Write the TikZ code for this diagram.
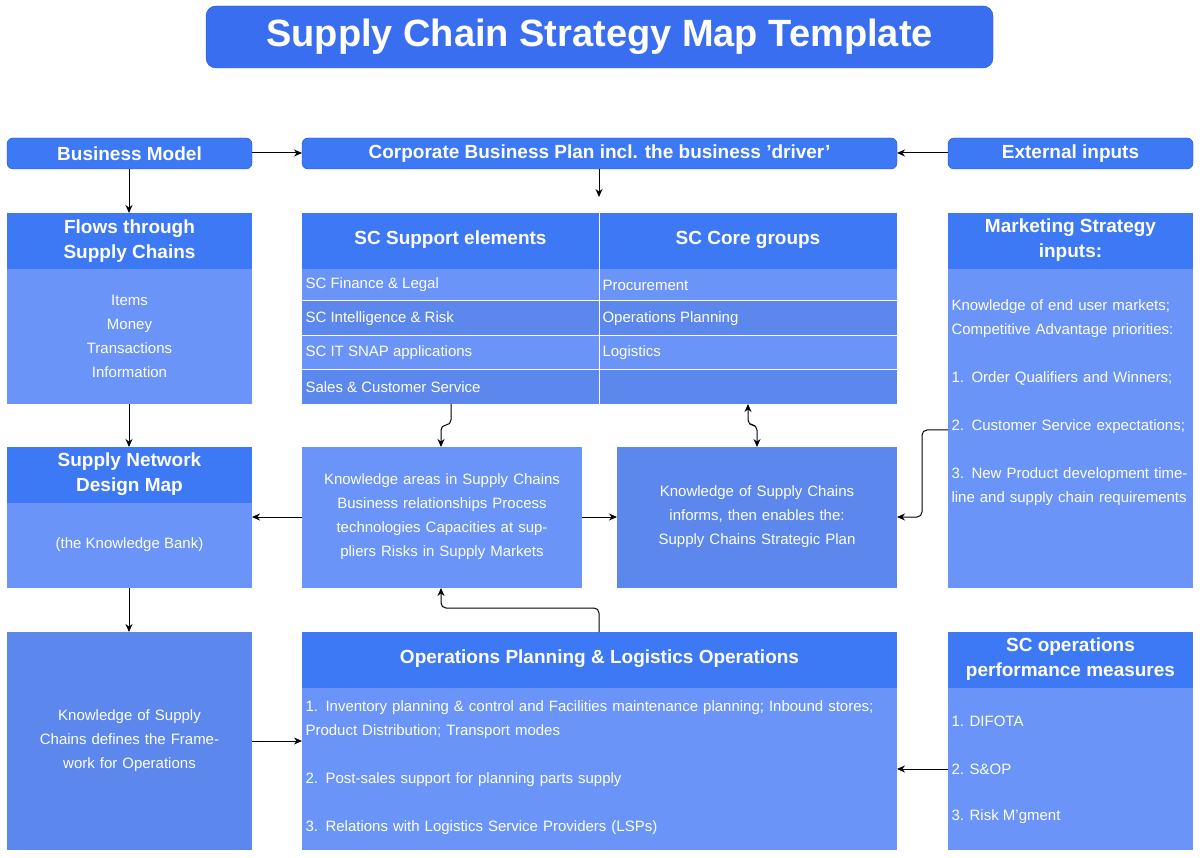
\documentclass[tikz,border=0pt]{standalone}
\usepackage{fontspec}
\setmainfont{Liberation Sans}
\usetikzlibrary{arrows.meta}
\definecolor{hdr}{HTML}{3D78F5}
\definecolor{lb}{HTML}{6A94F8}
\definecolor{db}{HTML}{5C87EC}
\definecolor{ttl}{HTML}{3A6EF0}
\definecolor{bd}{HTML}{1F4FD0}
\tikzset{
 pill/.style={fill=hdr,draw=bd,rounded corners=6pt,text=white,font=\fontsize{19}{23}\selectfont\bfseries},
 hbox/.style={fill=hdr,text=white,font=\fontsize{19}{25}\selectfont\bfseries,align=center},
 bt/.style={text=white,font=\fontsize{15}{24}\selectfont,align=center},
 lt/.style={text=white,font=\fontsize{15}{24}\selectfont,align=left,anchor=west},
 arr/.style={-{Stealth[length=8pt,width=7pt]},line width=1pt,black,rounded corners=5pt},
 sep/.style={white,line width=1pt}
}
\begin{document}
\begin{tikzpicture}[x=1pt,y=-1pt]
\useasboundingbox[fill=white] (0,0) rectangle (1200,858);
% title
\draw[fill=ttl,draw=bd,rounded corners=10pt] (206,6) rectangle (993,68);
\node[text=white,font=\fontsize{38}{44}\selectfont\bfseries] (title) at (599.5,37) {Supply Chain Strategy Map Template};
% row 1
\draw[pill] (7,138) rectangle (252,169); \node[text=white,font=\fontsize{19}{23}\selectfont\bfseries] (bm) at (129.5,153.5) {Business Model};
\coordinate (bmE) at (252,153); \coordinate (bmS) at (129,169);
\draw[pill] (302,138) rectangle (897,169); \node[text=white,font=\fontsize{19}{23}\selectfont\bfseries] (cbp) at (599.5,153.5) {Corporate Business Plan incl. the business 'driver'};
\coordinate (cbpW) at (302,153); \coordinate (cbpE) at (897,153); \coordinate (cbpS) at (599,169); \coordinate (cbpT) at (599,197);
\draw[pill] (948,138) rectangle (1193,169); \node[text=white,font=\fontsize{19}{23}\selectfont\bfseries] (ext) at (1070.5,153.5) {External inputs};
\coordinate (extW) at (948,153);
% flows
\fill[hdr] (7,213) rectangle (252,269); \fill[lb] (7,269) rectangle (252,404);
\node[hbox] (flh) at (129.5,241) {Flows through\\Supply Chains};
\node[bt] (flb) at (129.5,336) {Items\\Money\\Transactions\\Information};
% SC table
\fill[hdr] (302,213) rectangle (897,269);
\fill[lb] (302,269) rectangle (897,301);
\fill[db] (302,301) rectangle (897,336);
\fill[lb] (302,336) rectangle (897,370);
\fill[db] (302,370) rectangle (897,404);
\draw[sep] (599,213) -- (599,404);
\draw[sep] (302,301) -- (897,301); \draw[sep] (302,336) -- (897,336); \draw[sep] (302,370) -- (897,370);
\node[hbox] (sup) at (450.5,240) {SC Support elements};
\node[hbox] (core) at (748,240) {SC Core groups};
\node[lt] (r1) at (302,285) {SC Finance \& Legal};
\node[lt] (r2) at (302,319) {SC Intelligence \& Risk};
\node[lt] (r3) at (302,353) {SC IT SNAP applications};
\node[lt] (r4) at (302,387) {Sales \& Customer Service};
\node[lt] (c1) at (599,285) {Procurement};
\node[lt] (c2) at (599,319) {Operations Planning};
\node[lt] (c3) at (599,353) {Logistics};
\coordinate (salesS) at (451,404); \coordinate (coreS) at (748,404);
% marketing
\fill[hdr] (948,213) rectangle (1193,269); \fill[lb] (948,269) rectangle (1193,588);
\node[hbox] (mkh) at (1070.5,240) {Marketing Strategy\\inputs:};
\node[lt,text width=240pt,anchor=north west] (mkb) at (948,296) {Knowledge of end user markets; Competitive Advantage priorities:\\[24pt]1. Order Qualifiers and Winners;\\[24pt]2. Customer Service expectations;\\[24pt]3. New Product development timeline and supply chain requirements};
\coordinate (mkW) at (948,430);
% supply network
\fill[hdr] (7,447) rectangle (252,503); \fill[lb] (7,503) rectangle (252,588);
\node[hbox] (snh) at (129.5,474) {Supply Network\\Design Map};
\node[bt] (snb) at (129.5,545) {(the Knowledge Bank)};
\coordinate (snN) at (129,447); \coordinate (snE) at (252,517); \coordinate (snS) at (129,588); \coordinate (flS) at (129,404); \coordinate (flN) at (129,213);
% knowledge areas
\fill[lb] (302,447) rectangle (582,588);
\node[bt,text width=270pt] (ka) at (442,517) {Knowledge areas in Supply Chains Business relationships Process technologies Capacities at suppliers Risks in Supply Markets};
\coordinate (kaW) at (302,517); \coordinate (kaE) at (582,517); \coordinate (kaN) at (441,447); \coordinate (kaS) at (441,588);
% informs
\fill[db] (617,447) rectangle (897,588);
\node[bt,text width=270pt] (inf) at (757,517) {Knowledge of Supply Chains informs, then enables the: Supply Chains Strategic Plan};
\coordinate (infW) at (617,517); \coordinate (infE) at (897,517); \coordinate (infN) at (757,447);
% framework
\fill[db] (7,632) rectangle (252,850);
\node[bt,text width=235pt] (fw) at (129.5,741) {Knowledge of Supply Chains defines the Framework for Operations};
\coordinate (fwN) at (129,632); \coordinate (fwE) at (252,741);
% ops
\fill[hdr] (302,632) rectangle (897,688); \fill[lb] (302,688) rectangle (897,850);
\node[hbox] (oph) at (599.5,659) {Operations Planning \& Logistics Operations};
\node[lt,text width=590pt,anchor=north west] (opb) at (302,697) {1. Inventory planning \& control and Facilities maintenance planning; Inbound stores; Product Distribution; Transport modes\\[24pt]2. Post-sales support for planning parts supply\\[24pt]3. Relations with Logistics Service Providers (LSPs)};
\coordinate (opW) at (302,741); \coordinate (opE) at (897,769); \coordinate (opN) at (599,632);
% measures
\fill[hdr] (948,632) rectangle (1193,688); \fill[lb] (948,688) rectangle (1193,850);
\node[hbox] (msh) at (1070.5,659) {SC operations\\performance measures};
\node[lt] (m1) at (948,721) {1. DIFOTA};
\node[lt] (m2) at (948,769) {2. S\&OP};
\node[lt] (m3) at (948,817) {3. Risk M'gment};
\coordinate (msW) at (948,769);
% arrows
\draw[arr] (bmE) -- (cbpW);
\draw[arr] (extW) -- (cbpE);
\draw[arr] (cbpS) -- (cbpT);
\draw[arr] (bmS) -- (flN);
\draw[arr] (flS) -- (snN);
\draw[arr] (snS) -- (fwN);
\draw[arr] (fwE) -- (opW);
\draw[arr] (msW) -- (opE);
\draw[arr] (kaW) -- (snE);
\draw[arr] (kaE) -- (infW);
\draw[arr] (salesS) -- (451,425) -- (441,425) -- (kaN);
\draw[arr,{Stealth[length=8pt,width=7pt]}-{Stealth[length=8pt,width=7pt]}] (coreS) -- (748,425) -- (757,425) -- (infN);
\draw[arr] (mkW) -- (922,430) -- (922,517) -- (infE);
\draw[arr] (opN) -- (599,608) -- (441,608) -- (kaS);
\end{tikzpicture}
\end{document}
